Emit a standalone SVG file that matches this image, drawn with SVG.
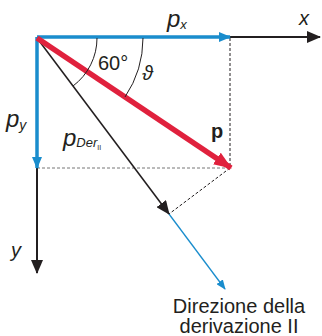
<svg xmlns="http://www.w3.org/2000/svg" width="322" height="336" viewBox="0 0 322 336">
<style>
text{font-family:"Liberation Sans",Arial,sans-serif;fill:#231f20}
.it{font-style:italic}
.ax{stroke:#231f20;stroke-width:2;fill:none}
.bl{stroke:#1a8dcd;fill:none}
.ds{stroke:#231f20;stroke-width:1;stroke-dasharray:3,2;fill:none}
</style>
<defs>
<marker id="ab" markerWidth="12" markerHeight="10" refX="11" refY="5" orient="auto" markerUnits="userSpaceOnUse" viewBox="0 0 12 10"><path d="M0,0 L12,5 L0,10 Z" fill="#1a8dcd"/></marker>
<marker id="ab2" markerWidth="10" markerHeight="8" refX="9" refY="4" orient="auto" markerUnits="userSpaceOnUse" viewBox="0 0 10 8"><path d="M0,0 L10,4 L0,8 Z" fill="#1a8dcd"/></marker>
<marker id="ar" markerWidth="18" markerHeight="14" refX="17" refY="7" orient="auto" markerUnits="userSpaceOnUse" viewBox="0 0 18 14"><path d="M0,0 L18,7 L0,14 Z" fill="#e0213d"/></marker>
<marker id="ak2" markerWidth="14" markerHeight="12" refX="13" refY="6" orient="auto" markerUnits="userSpaceOnUse" viewBox="0 0 14 12"><path d="M0,0 L14,6 L0,12 Z" fill="#231f20"/></marker>
</defs>
<g id="connectors">
<line class="ds" x1="230" y1="38" x2="230" y2="168"/>
<line class="ds" x1="37" y1="168" x2="230" y2="168" style="stroke:#777"/>
<line class="ds" x1="230" y1="168" x2="169" y2="214"/>
<line class="ax" x1="230" y1="37" x2="320" y2="37" marker-end="url(#ak2)"/>
<line class="ax" x1="37" y1="168" x2="37" y2="273" marker-end="url(#ak2)"/>
<line class="bl" style="stroke-width:1.3" x1="169" y1="214" x2="225" y2="289" marker-end="url(#ab2)"/>
<line x1="37" y1="38" x2="169" y2="214" stroke="#231f20" stroke-width="1.6" marker-end="url(#ak2)"/>
<line class="bl" style="stroke-width:3.5" x1="37" y1="37" x2="230" y2="37" marker-end="url(#ab)"/>
<line class="bl" style="stroke-width:3.5" x1="37" y1="37" x2="37" y2="168" marker-end="url(#ab)"/>
<line x1="37" y1="38" x2="231" y2="168" stroke="#e0213d" stroke-width="5.5" marker-end="url(#ar)"/>
<path d="M97,38 A60,60 0 0 1 73,86" stroke="#231f20" stroke-width="1" fill="none"/>
<path d="M143,38 A106,106 0 0 1 125,97" stroke="#231f20" stroke-width="1" fill="none"/>
</g>
<g id="labels">
<text x="98" y="70" font-size="20">60°</text>
<text x="142" y="80" font-size="20" class="it">ϑ</text>
<text x="167" y="27" font-size="24" class="it">p<tspan font-size="13" dy="2">x</tspan></text>
<text x="299" y="25" font-size="20" class="it">x</text>
<text x="6" y="127" font-size="24" class="it">p<tspan font-size="14" dy="3">y</tspan></text>
<text x="63" y="146" font-size="24" class="it">p<tspan font-size="13" dy="1">Der</tspan><tspan font-size="7" dy="3" font-style="normal">II</tspan></text>
<text x="211" y="138" font-size="20" font-weight="bold">p</text>
<text x="11" y="257" font-size="20" class="it">y</text>
<text x="239" y="313" font-size="20" text-anchor="middle">Direzione della</text>
<text x="239" y="333" font-size="20" text-anchor="middle">derivazione II</text>
</g>
</svg>
